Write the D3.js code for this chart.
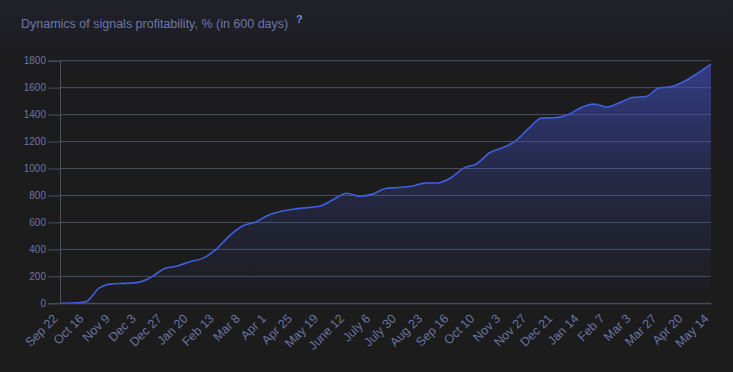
<!DOCTYPE html>
<html>
<head>
<meta charset="utf-8">
<script src="https://cdn.jsdelivr.net/npm/d3@7"></script>
<style>
  html, body { margin: 0; padding: 0; }
  body { width: 733px; height: 372px; overflow: hidden;
         background: linear-gradient(#20202a 0px, #1c1c1e 70px, #1c1c1c 372px); }
  svg { display: block; font-family: "Liberation Sans", Arial, sans-serif; }
</style>
</head>
<body>
<div id="chart"></div>
<script>
// x axis labels, one every 24 days
const labels = ['Sep 22', 'Oct 16', 'Nov 9', 'Dec 3', 'Dec 27', 'Jan 20', 'Feb 13', 'Mar 8',
  'Apr 1', 'Apr 25', 'May 19', 'June 12', 'July 6', 'July 30', 'Aug 23', 'Sep 16', 'Oct 10',
  'Nov 3', 'Nov 27', 'Dec 21', 'Jan 14', 'Feb 7', 'Mar 3', 'Mar 27', 'Apr 20', 'May 14'];

// profitability, %, every 12 days (two points per label)
const profit = [0, 2, 12, 112, 144, 148, 155, 194, 256, 277, 309, 335, 402, 499, 574, 601,
  654, 683, 700, 710, 722, 770, 816, 794, 810, 852, 859, 869, 892, 893, 930, 1003, 1035,
  1117, 1155, 1205, 1298, 1375, 1377, 1399, 1451, 1478, 1456, 1490, 1527, 1534, 1597,
  1608, 1649, 1710, 1775];

const yTicks = [0, 200, 400, 600, 800, 1000, 1200, 1400, 1600, 1800];

const W = 733, H = 372;
const M = { left: 60, right: 22, top: 60.7, bottom: 68.7 };

const svg = d3.select('#chart').append('svg')
  .attr('width', W)
  .attr('height', H);

// title
svg.append('text')
  .attr('x', 21)
  .attr('y', 28)
  .attr('fill', '#6c77a6')
  .style('font-size', '12.5px')
  .text('Dynamics of signals profitability, % (in 600 days)');

svg.append('text')
  .attr('x', 296)
  .attr('y', 23)
  .attr('fill', '#6b88dc')
  .style('font-size', '11px')
  .style('font-weight', 'bold')
  .text('?');

const x = d3.scaleLinear()
  .domain([0, profit.length - 1])
  .range([M.left, W - M.right]);

const y = d3.scaleLinear()
  .domain([0, 1800])
  .range([H - M.bottom, M.top]);

const gridColor = '#4b4f66';
const labelColor = '#6a74a0';

// y axis with gridlines
const yAxis = svg.append('g')
  .attr('transform', 'translate(' + M.left + ',0)')
  .call(d3.axisLeft(y).tickValues(yTicks).tickSize(12).tickPadding(2).tickFormat(d3.format('d')));
yAxis.select('.domain').attr('stroke', gridColor);
yAxis.selectAll('.tick line').attr('stroke', gridColor);
yAxis.selectAll('.tick text')
  .attr('fill', labelColor)
  .style('font-size', '10px')
  .style('font-family', '"Liberation Sans", Arial, sans-serif');

svg.append('g')
  .selectAll('line')
  .data(yTicks)
  .enter().append('line')
  .attr('x1', M.left)
  .attr('x2', W - M.right)
  .attr('y1', d => y(d))
  .attr('y2', d => y(d))
  .attr('stroke', gridColor)
  .attr('stroke-width', 1);

// area gradient
const defs = svg.append('defs');
const grad = defs.append('linearGradient')
  .attr('id', 'fillGrad')
  .attr('gradientUnits', 'userSpaceOnUse')
  .attr('x1', 0).attr('x2', 0)
  .attr('y1', y(1780)).attr('y2', y(0));
grad.append('stop').attr('offset', '0%').attr('stop-color', '#4152c8').attr('stop-opacity', 0.6);
grad.append('stop').attr('offset', '45%').attr('stop-color', '#4152c8').attr('stop-opacity', 0.25);
grad.append('stop').attr('offset', '100%').attr('stop-color', '#4152c8').attr('stop-opacity', 0.0);

const area = d3.area()
  .x((d, i) => x(i))
  .y0(y(0))
  .y1(d => y(d))
  .curve(d3.curveMonotoneX);

const line = d3.line()
  .x((d, i) => x(i))
  .y(d => y(d))
  .curve(d3.curveMonotoneX);

svg.append('path')
  .datum(profit)
  .attr('d', area)
  .attr('fill', 'url(#fillGrad)');

svg.append('path')
  .datum(profit)
  .attr('d', line)
  .attr('fill', 'none')
  .attr('stroke', '#3f5fe0')
  .attr('stroke-width', 1.6);

// x axis
const xAxis = svg.append('g')
  .attr('transform', 'translate(0,' + y(0) + ')')
  .call(d3.axisBottom(x)
    .tickValues(d3.range(0, profit.length, 2))
    .tickSize(0)
    .tickPadding(0)
    .tickFormat(i => labels[i / 2]));
xAxis.select('.domain').attr('stroke', gridColor);
xAxis.selectAll('.tick text')
  .attr('fill', labelColor)
  .style('font-size', '12.5px')
  .style('font-family', '"Liberation Sans", Arial, sans-serif')
  .attr('text-anchor', 'end')
  .attr('dy', 0)
  .attr('y', 0)
  .attr('transform', 'translate(-2,16) rotate(-45)');
</script>
</body>
</html>
